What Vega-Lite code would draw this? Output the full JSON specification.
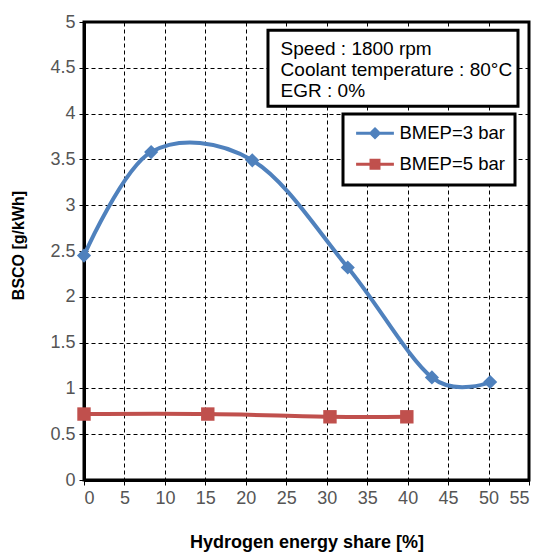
{
  "$schema": "https://vega.github.io/schema/vega-lite/v6.json",
  "width": 445,
  "height": 458,
  "autosize": "none",
  "padding": {"left": 84, "top": 22, "right": 11, "bottom": 72},
  "config": {
    "font": "Liberation Sans",
    "view": {"stroke": "black", "strokeWidth": 3},
    "axis": {
      "domainColor": "black",
      "domainWidth": 3,
      "gridColor": "black",
      "gridWidth": 1,
      "gridDash": [4, 3],
      "gridOpacity": 1,
      "tickColor": "black",
      "tickSize": 5,
      "labelFontSize": 18,
      "labelColor": "#555555",
      "titleFontWeight": "bold",
      "titleColor": "black",
      "labelPadding": 4
    }
  },
  "datasets": {
    "series": [
      {"x": 0, "y": 2.45, "s": "BMEP=3 bar"},
      {"x": 8.3, "y": 3.58, "s": "BMEP=3 bar"},
      {"x": 20.8, "y": 3.49, "s": "BMEP=3 bar"},
      {"x": 32.6, "y": 2.32, "s": "BMEP=3 bar"},
      {"x": 43.0, "y": 1.12, "s": "BMEP=3 bar"},
      {"x": 50.2, "y": 1.07, "s": "BMEP=3 bar"},
      {"x": 0, "y": 0.72, "s": "BMEP=5 bar"},
      {"x": 15.3, "y": 0.72, "s": "BMEP=5 bar"},
      {"x": 30.4, "y": 0.69, "s": "BMEP=5 bar"},
      {"x": 39.9, "y": 0.69, "s": "BMEP=5 bar"}
    ],
    "box": [{"x": 22.74, "x2": 53.64, "y": 4.91, "y2": 4.08}],
    "notes": [
      {"x": 24.3, "y": 4.705, "t": "Speed : 1800 rpm"},
      {"x": 24.3, "y": 4.476, "t": "Coolant temperature : 80°C"},
      {"x": 24.3, "y": 4.247, "t": "EGR : 0%"}
    ]
  },
  "encoding": {
    "x": {
      "field": "x", "type": "quantitative",
      "scale": {"domain": [0, 55], "nice": false, "zero": false},
      "axis": {"values": [0,5,10,15,20,25,30,35,40,45,50,55], "title": "Hydrogen energy share [%]", "titleFontSize": 18, "titleY": 67, "titleBaseline": "alphabetic"}
    },
    "y": {
      "field": "y", "type": "quantitative",
      "scale": {"domain": [0, 5], "nice": false},
      "axis": {"values": [0,0.5,1,1.5,2,2.5,3,3.5,4,4.5,5], "format": "~g", "title": "BSCO [g/kWh]", "titleFontSize": 16, "titleX": -58, "titleY": 223}
    }
  },
  "layer": [
    {
      "data": {"name": "series"},
      "mark": {"type": "line", "interpolate": "cardinal", "strokeWidth": 4},
      "encoding": {
        "color": {
          "field": "s", "type": "nominal",
          "scale": {"domain": ["BMEP=3 bar", "BMEP=5 bar"], "range": ["#4F81BD", "#C0504D"]},
          "legend": {
            "title": null,
            "orient": "none",
            "legendX": 259,
            "legendY": 92,
            "fillColor": "white",
            "strokeColor": "black",
            "padding": 10,
            "symbolSize": 196,
            "symbolStrokeWidth": 3,
            "labelFontSize": 18.5,
            "labelColor": "black",
            "labelOffset": 28,
            "rowPadding": 10,
            "encode": {
              "legend": {"update": {"strokeWidth": {"value": 3}}},
              "symbols": {"update": {
                "shape": {"signal": "datum.value === 'BMEP=3 bar' ? 'M-2.7,0H2.7M0,-0.6L0.6,0L0,0.6L-0.6,0Z' : 'M-2.7,0H2.7M-0.57,-0.57H0.57V0.57H-0.57Z'"},
                "fill": {"signal": "scale('color', datum.value)"},
                "stroke": {"signal": "scale('color', datum.value)"},
                "strokeWidth": {"value": 3},
                "xc": {"value": 22}
              }}
            }
          }
        }
      }
    },
    {
      "data": {"name": "series"},
      "transform": [{"filter": "datum.s === 'BMEP=3 bar'"}],
      "mark": {"type": "point", "shape": "diamond", "filled": true, "opacity": 1, "size": 200, "color": "#4F81BD"}
    },
    {
      "data": {"name": "series"},
      "transform": [{"filter": "datum.s === 'BMEP=5 bar'"}],
      "mark": {"type": "point", "shape": "square", "filled": true, "opacity": 1, "size": 180, "color": "#C0504D"}
    },
    {
      "data": {"name": "box"},
      "mark": {"type": "rect", "fill": "white", "stroke": "black", "strokeWidth": 3},
      "encoding": {
        "x2": {"field": "x2"},
        "y2": {"field": "y2"}
      }
    },
    {
      "data": {"name": "notes"},
      "mark": {"type": "text", "align": "left", "baseline": "middle", "fontSize": 19, "color": "black"},
      "encoding": {
        "text": {"field": "t"}
      }
    }
  ]
}
